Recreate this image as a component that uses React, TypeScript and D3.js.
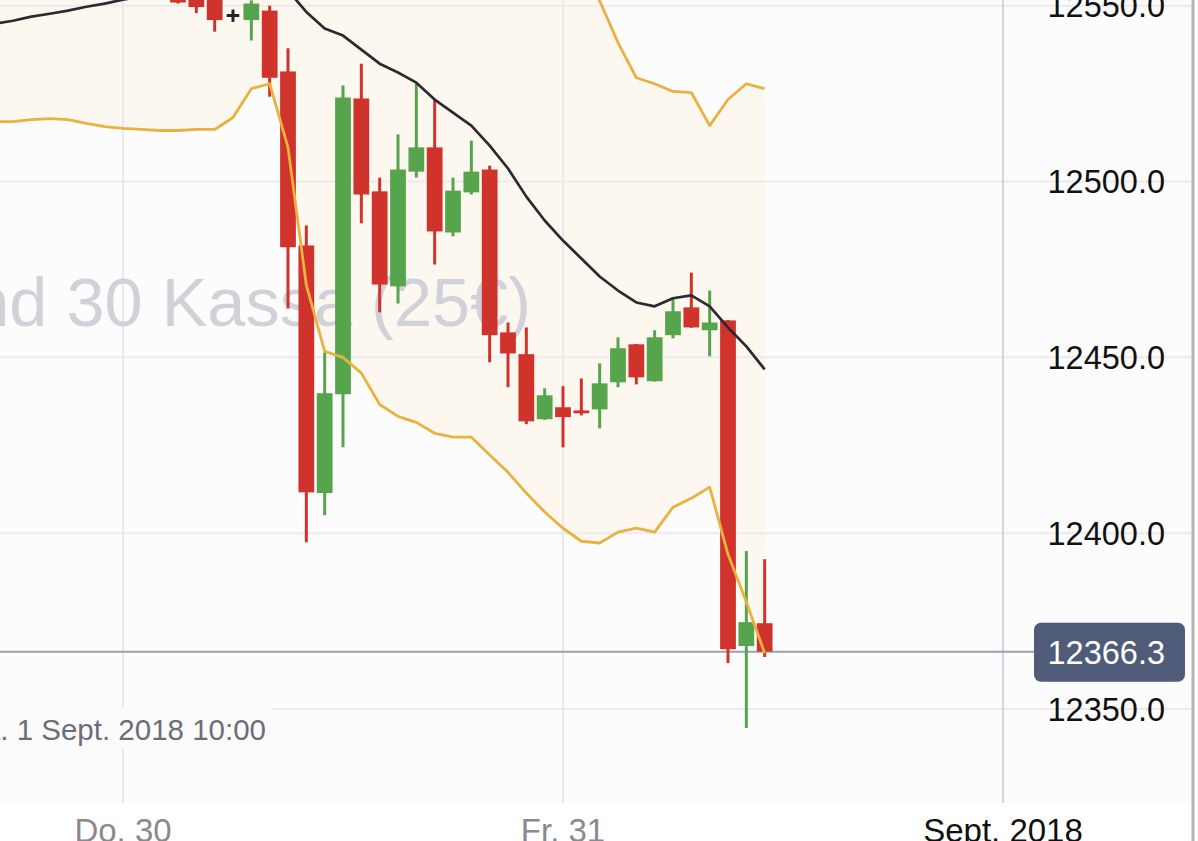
import React from 'react';
import * as d3 from 'd3';

// ---- data ----
const title = 'Deutschland 30 Kassa (25€)';
const crosshairLabel = 'Sa. 1 Sept. 2018 10:00';
const lastPrice = 12366.3;

const candleStart = '2018-08-30T03:00:00Z';
const opens = [12556.0, 12554.0, 12553.0, 12547.2, 12545.9, 12548.6, 12531.3, 12481.8, 12411.4, 12439.5, 12523.6, 12497.2, 12470.2, 12502.8, 12509.7, 12485.5, 12496.9, 12503.4, 12457.1, 12450.9, 12432.4, 12435.8, 12434.9, 12435.2, 12442.9, 12453.7, 12443.2, 12456.3, 12464.2, 12457.7, 12460.5, 12367.9, 12374.4];
const highs = [12559.0, 12556.5, 12555.0, 12548.9, 12551.5, 12550.0, 12537.9, 12487.5, 12451.4, 12527.3, 12533.5, 12501.1, 12513.4, 12527.8, 12523.3, 12501.1, 12511.6, 12504.5, 12459.9, 12458.5, 12441.2, 12441.8, 12444.0, 12448.3, 12455.7, 12453.8, 12457.7, 12466.5, 12474.1, 12469.0, 12460.6, 12394.9, 12392.6];
const lows = [12550.6, 12547.9, 12542.6, 12545.4, 12540.1, 12524.1, 12463.9, 12397.4, 12405.1, 12424.4, 12488.1, 12462.8, 12465.3, 12501.1, 12476.4, 12484.4, 12496.3, 12448.6, 12441.5, 12431.0, 12432.2, 12424.4, 12433.5, 12429.8, 12441.5, 12442.3, 12443.1, 12455.4, 12458.4, 12450.3, 12363.1, 12344.6, 12364.8];
const closes = [12550.9, 12549.6, 12545.9, 12547.2, 12550.6, 12529.5, 12481.3, 12411.6, 12439.8, 12523.9, 12496.3, 12470.7, 12503.4, 12509.7, 12485.8, 12497.4, 12502.8, 12456.3, 12451.1, 12431.8, 12439.2, 12433.0, 12434.1, 12442.6, 12452.6, 12444.3, 12455.7, 12463.1, 12458.5, 12459.9, 12367.0, 12374.7, 12366.3];

const bandStart = '2018-08-29T17:00:00Z';
const smaValues = [12544.9, 12545.7, 12546.9, 12547.7, 12548.6, 12549.7, 12550.6, 12551.7, 12552.6, 12553.1, 12553.7, 12554.0, 12554.3, 12554.5, 12554.8, 12554.8, 12554.3, 12548.2, 12543.5, 12541.5, 12537.5, 12533.5, 12531.0, 12528.1, 12523.3, 12519.6, 12515.9, 12510.2, 12503.7, 12495.7, 12488.9, 12483.2, 12478.1, 12473.0, 12469.0, 12465.6, 12464.5, 12466.8, 12467.6, 12464.5, 12458.5, 12453.1, 12446.6];
const upperValues = [12572.8, 12574.4, 12576.2, 12577.5, 12579.6, 12582.9, 12585.6, 12588.3, 12590.4, 12591.7, 12592.9, 12593.2, 12593.8, 12590.8, 12583.2, 12581.8, 12598.9, 12625.9, 12635.3, 12633.0, 12629.5, 12630.4, 12628.8, 12624.7, 12618.2, 12611.9, 12604.5, 12598.2, 12590.1, 12580.0, 12571.8, 12565.0, 12558.5, 12551.4, 12539.5, 12529.5, 12527.8, 12525.6, 12525.3, 12515.9, 12523.3, 12527.8, 12526.4];
const lowerValues = [12517.0, 12517.0, 12517.6, 12517.9, 12517.6, 12516.5, 12515.6, 12515.1, 12514.8, 12514.5, 12514.5, 12514.8, 12514.8, 12518.2, 12526.4, 12527.8, 12509.7, 12470.5, 12451.7, 12450.0, 12445.5, 12436.6, 12433.2, 12431.5, 12428.4, 12427.3, 12427.3, 12422.2, 12417.3, 12411.4, 12406.0, 12401.4, 12397.7, 12397.2, 12400.3, 12401.4, 12400.3, 12407.4, 12409.9, 12413.1, 12394.0, 12380.4, 12365.9];

const yTicks = [12350, 12400, 12450, 12500, 12550];
const xTickDates = ['2018-08-30T00:00:00Z', '2018-08-31T00:00:00Z', '2018-09-01T00:00:00Z'];
const xTickLabels = ['Do. 30', 'Fr. 31', 'Sept. 2018'];

const FONT = '"Liberation Sans", Arial, Helvetica, sans-serif';

export default function App() {
  const W = 1198;
  const H = 841;
  const plotBottom = 803;
  const rightEdge = 1193;

  const x = d3
    .scaleUtc()
    .domain([new Date('2018-08-30T00:00:00Z'), new Date('2018-09-01T00:00:00Z')])
    .range([123, 1003]);
  const y = d3.scaleLinear().domain([12350, 12500]).range([709, 181.5]);

  const cStart = new Date(candleStart);
  const candles = opens.map((o, i) => ({
    t: d3.utcHour.offset(cStart, i),
    o,
    h: highs[i],
    l: lows[i],
    c: closes[i],
  }));
  const bStart = new Date(bandStart);
  const band = smaValues.map((s, i) => ({
    t: d3.utcHour.offset(bStart, i),
    s,
    u: upperValues[i],
    lo: lowerValues[i],
  }));

  const step = x(d3.utcHour.offset(cStart, 1)) - x(cStart);
  const bodyW = step * 0.86;

  const area = d3
    .area<any>()
    .x((d) => x(d.t))
    .y0((d) => y(d.lo))
    .y1((d) => y(d.u));
  const smaLine = d3
    .line<any>()
    .x((d) => x(d.t))
    .y((d) => y(d.s));
  const upLine = d3
    .line<any>()
    .x((d) => x(d.t))
    .y((d) => y(d.u));
  const loLine = d3
    .line<any>()
    .x((d) => x(d.t))
    .y((d) => y(d.lo));

  const RED = '#d0332b';
  const GREEN = '#56a44c';
  const GOLD = '#e9b13f';

  const py = y(lastPrice);

  return (
    <svg
      width={W}
      height={H}
      style={{ position: 'absolute', left: 0, top: 0, display: 'block' }}
      fontFamily={FONT}
    >
      <defs>
        <clipPath id="plotClip">
          <rect x={0} y={0} width={1003} height={plotBottom} />
        </clipPath>
      </defs>
      <rect x={0} y={0} width={W} height={H} fill="#ffffff" />
      <rect x={0} y={0} width={rightEdge} height={plotBottom} fill="#fcfcfd" />

      <g clipPath="url(#plotClip)">
        <path d={area(band) || ''} fill="#fdf8ef" />
      </g>

      {/* horizontal gridlines */}
      {yTicks.map((v) => (
        <line key={v} x1={0} x2={rightEdge} y1={y(v)} y2={y(v)} stroke="#ebebef" strokeWidth={2} />
      ))}
      {/* vertical gridlines */}
      {xTickDates.map((d, i) => (
        <line
          key={d}
          x1={x(new Date(d))}
          x2={x(new Date(d))}
          y1={0}
          y2={plotBottom}
          stroke={i === 2 ? '#d4d5dc' : '#e8e8ed'}
          strokeWidth={2}
        />
      ))}

      {/* watermark */}
      <text x={531} y={326} textAnchor="end" fontSize={68.5} fill="#d1d1d9">
        {title}
      </text>

      {/* last price line */}
      <line x1={0} x2={1034} y1={py} y2={py} stroke="#9ba1ae" strokeWidth={2} />

      <g clipPath="url(#plotClip)">
        {candles.map((d, i) => {
          const cx = x(d.t);
          const doji = d.o === d.c;
          const col = doji ? '#222228' : d.c > d.o ? GREEN : RED;
          const top = y(Math.max(d.o, d.c));
          const bot = y(Math.min(d.o, d.c));
          const w = doji ? bodyW * 0.8 : bodyW;
          return (
            <g key={i}>
              <line x1={cx} x2={cx} y1={y(d.h)} y2={y(d.l)} stroke={col} strokeWidth={3} />
              <rect
                x={cx - w / 2}
                y={doji ? top - 1.5 : top}
                width={w}
                height={doji ? 3 : Math.max(2, bot - top)}
                fill={col}
              />
            </g>
          );
        })}

        <path d={smaLine(band) || ''} fill="none" stroke="#2a2a30" strokeWidth={2.7} strokeLinejoin="round" />
        <path d={upLine(band) || ''} fill="none" stroke={GOLD} strokeWidth={2.8} strokeLinejoin="round" />
        <path d={loLine(band) || ''} fill="none" stroke={GOLD} strokeWidth={2.8} strokeLinejoin="round" />
      </g>

      {/* y axis labels */}
      {yTicks.map((v) => (
        <text key={v} x={1165} y={y(v) + 11.5} textAnchor="end" fontSize={32.5} fill="#111111">
          {d3.format('.1f')(v)}
        </text>
      ))}

      {/* last price box */}
      <rect x={1034} y={py - 29} width={151} height={59} rx={7} fill="#4f5b78" />
      <text x={1165} y={py + 12} textAnchor="end" fontSize={32.5} fill="#ffffff">
        {d3.format('.1f')(lastPrice)}
      </text>

      {/* crosshair date label */}
      <rect x={-10} y={707} width={281} height={42} fill="#fbfbfc" />
      <text x={266} y={740} textAnchor="end" fontSize={29.5} fill="#6d6d78">
        {crosshairLabel}
      </text>

      {/* x axis labels */}
      <rect x={905} y={804} width={195} height={40} fill="#ffffff" />
      {xTickDates.map((d, i) => (
        <text
          key={d}
          x={x(new Date(d))}
          y={842}
          textAnchor="middle"
          fontSize={33}
          fill={i === 2 ? '#111111' : '#8a8a8e'}
        >
          {xTickLabels[i]}
        </text>
      ))}

      {/* right border */}
      <line x1={rightEdge} x2={rightEdge} y1={0} y2={H} stroke="#b3b3b6" strokeWidth={3} />
    </svg>
  );
}
